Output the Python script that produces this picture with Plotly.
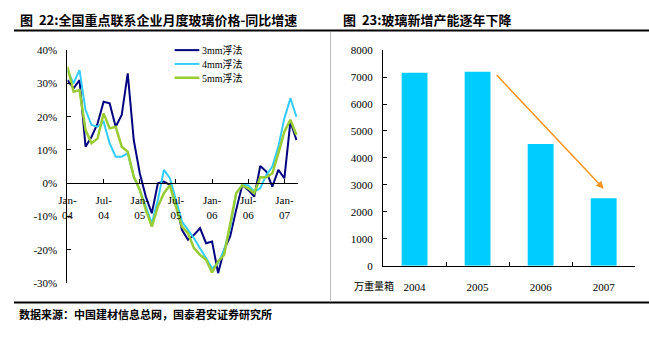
import plotly.graph_objects as go

W, H = 649, 349

# ---------------- data: left chart (YoY growth, %) ----------------
month_idx = list(range(39))  # Jan-04 .. Mar-07
x_tickvals = [0, 6, 12, 18, 24, 30, 36]
x_ticktext = ["Jan-<br>04", "Jul-<br>04", "Jan-<br>05", "Jul-<br>05",
              "Jan-<br>06", "Jul-<br>06", "Jan-<br>07"]

s3mm = [31, 28.5, 31, 11, 14, 18, 24.5, 24, 17, 20.5, 33, 13, 3, -4, -9, 0, 0.5, -0.5,
        -6, -14, -17, -15.5, -13.5, -18, -17.5, -27, -20, -16, -8, -0.6, -2, -4,
        5.2, 3.5, -1, 4, 1.5, 18.5, 13]
s4mm = [34, 30, 34, 22, 17.5, 17, 18.5, 12, 8, 8, 9, 2, -2, -7, -12, -5, 4, 1.5,
        -5, -11.5, -14, -16.5, -19.5, -22.5, -25.5, -24, -20, -13.5, -3, -0.5, -0.6, -2.5,
        -1.5, 2.5, 5, 11, 19.5, 25.5, 20]
s5mm = [35, 27.5, 28, 16, 12, 13.5, 21, 16.5, 17, 11, 9.5, 2, -2, -8, -13, -7, -3, -0.6,
        -7, -13, -15, -19.5, -21.5, -23, -26.8, -23.5, -21.5, -12, -3, -0.6, -1.5, -3,
        1.8, 1.8, 3, 9, 15.5, 19.1, 14.5]
series_names = ["3mm浮法", "4mm浮法", "5mm浮法"]
y_tickvals = [-30, -20, -10, 0, 10, 20, 30, 40]
y_ticktext = ["-30%", "-20%", "-10%", "0%", "10%", "20%", "30%", "40%"]

# ---------------- data: right chart (new capacity) ----------------
years = ["2004", "2005", "2006", "2007"]
capacity = [7160, 7200, 4520, 2500]
unit_label = "万重量箱"
arrow_from = (1.28, 7130)
arrow_to = (3.0, 2860)

title_left = "图  22:全国重点联系企业月度玻璃价格-同比增速"
title_right = "图  23:玻璃新增产能逐年下降"
source_text = "数据来源：中国建材信息总网，国泰君安证券研究所"

# ---------------- layout helpers ----------------
def px_x(p):
    return p / W

def px_y(p):
    return 1 - p / H

serif = "Liberation Serif, Times New Roman, serif"
cjk = "Noto Sans CJK SC, sans-serif"

L_dom_x = [px_x(59.3), px_x(293)]
L_dom_y = [px_y(287), px_y(45.7)]
L_range_y = [-30, 40]
zero_pos = L_dom_y[0] + (0 - L_range_y[0]) / (L_range_y[1] - L_range_y[0]) * (L_dom_y[1] - L_dom_y[0])

R_dom_x = [px_x(379.3), px_x(635)]
R_dom_y = [px_y(269), px_y(45.7)]

fig = go.Figure()

colors = ["#000080", "#33CCFF", "#99CC33"]
widths = [2, 2, 2.5]
for name, ys, c, w in zip(series_names, [s3mm, s4mm, s5mm], colors, widths):
    fig.add_trace(go.Scatter(x=month_idx, y=ys, mode="lines", name=name,
                             line=dict(color=c, width=w), xaxis="x", yaxis="y",
                             showlegend=False))

fig.add_trace(go.Bar(x=years, y=capacity, marker=dict(color="#00CCFF", line=dict(width=0)),
                     width=0.41, showlegend=False, xaxis="x2", yaxis="y2"))

fig.update_layout(
    width=W, height=H,
    margin=dict(l=0, r=0, t=0, b=0),
    paper_bgcolor="white", plot_bgcolor="white",
    font=dict(family=serif, size=11, color="black"),
    xaxis=dict(domain=L_dom_x, range=[0, 38.25], anchor="free", position=zero_pos,
               tickvals=x_tickvals, ticktext=x_ticktext, ticks="inside", ticklen=4,
               tickcolor="black", showline=True, linecolor="black", linewidth=1,
               showgrid=False, zeroline=False, ticklabelstandoff=7,
               tickfont=dict(family=serif, size=11)),
    yaxis=dict(domain=L_dom_y, range=L_range_y, anchor="x", tickvals=y_tickvals,
               ticktext=y_ticktext, ticks="inside", ticklen=4, tickcolor="black",
               showline=True, linecolor="black", linewidth=1, showgrid=False,
               zeroline=False, ticklabelstandoff=7, tickfont=dict(family=serif, size=11)),
    xaxis2=dict(domain=R_dom_x, anchor="y2", type="category", range=[-0.5, 3.5],
                tickson="boundaries", ticks="inside", ticklen=4, tickcolor="black",
                showline=True, linecolor="black", linewidth=1, showgrid=False,
                ticklabelstandoff=11, tickfont=dict(family=serif, size=11)),
    yaxis2=dict(domain=R_dom_y, anchor="x2", range=[0, 8000], dtick=1000,
                ticks="inside", ticklen=4, tickcolor="black", showline=True,
                linecolor="black", linewidth=1, showgrid=False, zeroline=False,
                ticklabelstandoff=7, tickfont=dict(family=serif, size=11)),
    showlegend=False,
)

# Manual legend (compact rows as in the reference)
legend_rows_px = [45.7, 60, 74.3]
for name, c, w, ry in zip(series_names, colors, widths, legend_rows_px):
    fig.add_shape(type="line", xref="paper", yref="paper", x0=px_x(168), x1=px_x(193),
                  y0=px_y(ry), y1=px_y(ry), line=dict(color=c, width=w))
    fig.add_annotation(text=name, xref="paper", yref="paper", x=px_x(194), y=px_y(ry),
                       xanchor="left", yanchor="middle", showarrow=False,
                       font=dict(family=serif + ", " + cjk, size=10, color="black"))

# Titles, source, unit
fig.add_annotation(text=title_left, xref="paper", yref="paper", x=px_x(9), y=px_y(14),
                   xanchor="left", yanchor="middle", showarrow=False,
                   font=dict(family=cjk, size=13, color="black", weight="bold"))
fig.add_annotation(text=title_right, xref="paper", yref="paper", x=px_x(337), y=px_y(14),
                   xanchor="left", yanchor="middle", showarrow=False,
                   font=dict(family=cjk, size=13, color="black", weight="bold"))
fig.add_annotation(text=source_text, xref="paper", yref="paper", x=px_x(8), y=px_y(319),
                   xanchor="left", yanchor="middle", showarrow=False,
                   font=dict(family=cjk, size=11, color="black", weight="bold"))
fig.add_annotation(text=unit_label, xref="paper", yref="paper", x=px_x(370), y=px_y(289),
                   xanchor="center", yanchor="middle", showarrow=False,
                   font=dict(family=cjk, size=10, color="black"))

# Arrow on bar chart
fig.add_annotation(x=arrow_to[0], y=arrow_to[1], ax=arrow_from[0], ay=arrow_from[1],
                   xref="x2", yref="y2", axref="x2", ayref="y2", text="",
                   showarrow=True, arrowhead=2, arrowsize=1, arrowwidth=1.5,
                   arrowcolor="#F7941D")

# Frame lines
fig.add_shape(type="line", xref="paper", yref="paper", x0=px_x(5), x1=1, y0=px_y(25.5), y1=px_y(25.5),
              line=dict(color="black", width=2))
fig.add_shape(type="line", xref="paper", yref="paper", x0=px_x(5), x1=1, y0=px_y(307), y1=px_y(307),
              line=dict(color="black", width=2))
fig.add_shape(type="line", xref="paper", yref="paper", x0=px_x(326), x1=px_x(326), y0=px_y(27), y1=px_y(306),
              line=dict(color="#BFBFBF", width=1))

fig.write_html("out.html")
